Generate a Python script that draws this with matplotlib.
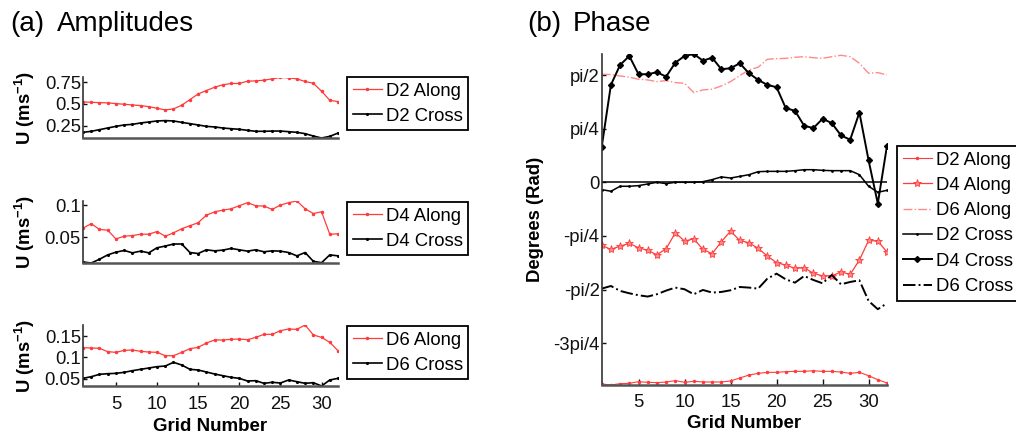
import numpy as np
import matplotlib
matplotlib.use("Agg")
import matplotlib.pyplot as plt

plt.rcParams['font.family'] = ['Liberation Sans', 'DejaVu Sans']
plt.rcParams['mathtext.fontset'] = 'custom'
plt.rcParams['mathtext.rm'] = 'Liberation Sans'
plt.rcParams['mathtext.bf'] = 'Liberation Sans:bold'

grid = np.arange(1, 33)

# (a) amplitudes, m/s
d2_along = [0.523, 0.519, 0.515, 0.512, 0.504, 0.496, 0.488, 0.481, 0.469, 0.450, 0.431, 0.442,
            0.485, 0.550, 0.615, 0.654, 0.692, 0.720, 0.735, 0.735, 0.762, 0.765, 0.773, 0.788,
            0.804, 0.800, 0.788, 0.758, 0.738, 0.646, 0.542, 0.527]
d2_cross = [0.173, 0.185, 0.204, 0.223, 0.242, 0.258, 0.265, 0.281, 0.292, 0.304, 0.308, 0.304,
            0.288, 0.273, 0.258, 0.242, 0.235, 0.223, 0.215, 0.208, 0.196, 0.185, 0.185, 0.188,
            0.188, 0.181, 0.173, 0.158, 0.131, 0.108, 0.127, 0.165]
d4_along = [0.0642, 0.0711, 0.0621, 0.0610, 0.0474, 0.0516, 0.0526, 0.0547, 0.0547, 0.0589, 0.0516,
            0.0568, 0.0632, 0.0679, 0.0726, 0.0842, 0.0895, 0.0921, 0.0942, 0.0989, 0.1037, 0.0989,
            0.0984, 0.0932, 0.1000, 0.1037, 0.1063, 0.0942, 0.0868, 0.0895, 0.0547, 0.0553]
d4_cross = [0.0116, 0.0100, 0.0158, 0.0226, 0.0268, 0.0295, 0.0258, 0.0284, 0.0258, 0.0337, 0.0363,
            0.0395, 0.0395, 0.0263, 0.0247, 0.0305, 0.0289, 0.0300, 0.0326, 0.0305, 0.0284, 0.0305,
            0.0274, 0.0289, 0.0284, 0.0263, 0.0211, 0.0263, 0.0126, 0.0105, 0.0226, 0.0211]
d6_along = [0.1228, 0.1220, 0.1213, 0.1134, 0.1118, 0.1165, 0.1173, 0.1142, 0.1126, 0.1118, 0.1039,
            0.1039, 0.1118, 0.1205, 0.1236, 0.1339, 0.1410, 0.1410, 0.1425, 0.1433, 0.1417, 0.1472,
            0.1543, 0.1543, 0.1630, 0.1669, 0.1661, 0.1764, 0.1528, 0.1472, 0.1354, 0.1157]
d6_cross = [0.0504, 0.0543, 0.0598, 0.0614, 0.0622, 0.0646, 0.0685, 0.0717, 0.0748, 0.0780, 0.0795,
            0.0882, 0.0819, 0.0717, 0.0701, 0.0654, 0.0606, 0.0567, 0.0528, 0.0504, 0.0441, 0.0449,
            0.0386, 0.0410, 0.0394, 0.0465, 0.0425, 0.0386, 0.0402, 0.0323, 0.0465, 0.0504]

# (b) phase, in units of pi/4
ph_d2_along = [-3.760, -3.779, -3.754, -3.748, -3.717, -3.729, -3.735, -3.723, -3.698, -3.729, -3.710,
               -3.723, -3.723, -3.723, -3.704, -3.649, -3.593, -3.562, -3.543, -3.543, -3.531, -3.525,
               -3.525, -3.513, -3.525, -3.525, -3.537, -3.562, -3.543, -3.606, -3.680, -3.742]
ph_d4_along = [-1.177, -1.251, -1.190, -1.139, -1.220, -1.270, -1.350, -1.238, -0.941, -1.096, -1.053,
               -1.251, -1.331, -1.108, -0.911, -1.084, -1.127, -1.232, -1.375, -1.499, -1.542, -1.604,
               -1.592, -1.697, -1.746, -1.746, -1.672, -1.716, -1.450, -1.084, -1.096, -1.301]
ph_d6_along = [2.015, 2.009, 1.983, 1.959, 1.922, 1.909, 1.877, 1.896, 1.859, 1.847, 1.673, 1.723,
               1.735, 1.797, 1.877, 1.989, 2.095, 2.145, 2.294, 2.305, 2.311, 2.331, 2.342, 2.323,
               2.311, 2.342, 2.368, 2.342, 2.219, 2.033, 2.045, 2.002]
ph_d2_cross = [-0.136, -0.167, -0.074, -0.074, -0.062, -0.031, 0.000, -0.025, 0.000, 0.000, 0.000,
               0.012, 0.050, 0.100, 0.080, 0.110, 0.142, 0.198, 0.204, 0.204, 0.204, 0.217, 0.235,
               0.235, 0.223, 0.217, 0.217, 0.217, 0.142, -0.074, -0.186, -0.149]
ph_d4_cross = [0.658, 1.816, 2.188, 2.355, 2.015, 2.015, 2.052, 1.970, 2.230, 2.355, 2.392, 2.268,
               2.323, 2.108, 2.126, 2.219, 2.033, 1.909, 1.816, 1.773, 1.383, 1.333, 1.054, 1.011,
               1.184, 1.104, 0.874, 0.794, 1.301, 0.409, -0.396, 0.682]
ph_d6_cross = [-1.982, -1.933, -2.025, -2.069, -2.106, -2.130, -2.087, -2.019, -1.963, -1.994, -2.087,
               -2.007, -2.056, -2.044, -2.013, -1.952, -1.963, -1.982, -1.796, -1.703, -1.809, -1.871,
               -1.747, -1.821, -1.883, -1.728, -1.902, -1.858, -1.827, -2.212, -2.366, -2.255]

phase_ticks = [2, 1, 0, -1, -2, -3]
phase_labels = ['pi/2', 'pi/4', '0', '-pi/4', '-pi/2', '-3pi/4']

W, H = 1016, 437
RED = '#ff3b3b'
PINK = '#ff8a8a'


def box(l, t, r, b):
    return [l / W, 1 - b / H, (r - l) / W, (b - t) / H]


def style(ax):
    for s in ['top', 'right']:
        ax.spines[s].set_visible(False)
    ax.spines['left'].set_color('#333333')
    ax.spines['left'].set_linewidth(1.2)
    ax.spines['bottom'].set_color('#555555')
    ax.spines['bottom'].set_linewidth(1.8)
    ax.tick_params(direction='in', length=3, width=1, labelsize=13.3, pad=1.5, colors='#111111')


def legend(ax, x, y, **kw):
    leg = ax.legend(loc='upper left', bbox_to_anchor=(x / W, 1 - y / H), bbox_transform=fig.transFigure,
                    borderaxespad=0, fontsize=13.3, fancybox=False, edgecolor='black', framealpha=1,
                    handlelength=1.6, handletextpad=0.2, borderpad=0.3, labelspacing=0.45, **kw)
    leg.get_frame().set_linewidth(1.3)
    return leg


fig = plt.figure(figsize=(W / 100, H / 100), dpi=100)

amp_sets = [
    (d2_along, d2_cross, 'D2', (83, 77.5, 338, 138), [0.25, 0.5, 0.75], ['0.25', '0.5', '0.75'], 77),
    (d4_along, d4_cross, 'D4', (83, 201, 338, 263), [0.05, 0.1], ['0.05', '0.1'], 202),
    (d6_along, d6_cross, 'D6', (83, 325, 338, 386), [0.05, 0.1, 0.15], ['0.05', '0.1', '0.15'], 326),
]
for i, (along, cross, name, pos, yt, yl, ly) in enumerate(amp_sets):
    ax = fig.add_axes(box(*pos))
    ax.plot(grid, along, '-', color=RED, lw=0.9, marker='.', ms=3, label=name + ' Along')
    ax.plot(grid, cross, '-', color='black', lw=1.2, marker='.', ms=2.5, label=name + ' Cross')
    ax.set_xlim(1, 32)
    ax.margins(y=0)
    ax.set_yticks(yt)
    ax.set_yticklabels(yl)
    style(ax)
    if i < 2:
        ax.set_xticks([])
    else:
        ax.set_xticks([5, 10, 15, 20, 25, 30])
        ax.tick_params(axis='x', pad=7.5)
        ax.set_xlabel('Grid Number', fontsize=13.5, fontweight='bold', labelpad=3)
    fig.text(25 / W, 1 - (pos[1] + pos[3]) / 2 / H, r'U (ms$^{\mathbf{-1}}$)', rotation=90,
             ha='center', va='center', fontsize=13.3, fontweight='bold')
    legend(ax, 347, ly)

ax = fig.add_axes(box(601.7, 54, 887, 385))
q = np.pi / 4
ax.plot(grid, np.array(ph_d2_along) * q, '-', color=RED, lw=0.8, marker='.', ms=3, label='D2 Along')
ax.plot(grid, np.array(ph_d4_along) * q, '-', color=RED, lw=0.9, marker='*', ms=6, mew=0.6,
        mfc=PINK, mec=RED, label='D4 Along')
ax.plot(grid, np.array(ph_d6_along) * q, '-.', color=PINK, lw=1.0, label='D6 Along')
ax.plot(grid, np.array(ph_d2_cross) * q, '-', color='black', lw=1.1, marker='.', ms=2, label='D2 Cross')
ax.plot(grid, np.array(ph_d4_cross) * q, '-', color='black', lw=1.4, marker='D', ms=3, label='D4 Cross')
ax.plot(grid, np.array(ph_d6_cross) * q, '-.', color='black', lw=1.4, label='D6 Cross')
ax.set_xlim(1, 32)
ax.margins(y=0)
ax.axhline(0, color='black', lw=1.1)
ax.set_yticks(np.array(phase_ticks) * q)
ax.set_yticklabels(phase_labels)
ax.set_xticks([5, 10, 15, 20, 25, 30])
style(ax)
ax.tick_params(axis='x', length=4, pad=6.7)
ax.set_xlabel('Grid Number', fontsize=13.5, fontweight='bold', labelpad=3)
fig.text(536 / W, 1 - 219.5 / H, 'Degrees (Rad)', rotation=90, ha='center', va='center',
         fontsize=13.3, fontweight='bold')
legend(ax, 897, 146)

fig.text(10 / W, 1 - 31 / H, '(a)', fontsize=20, va='baseline')
fig.text(57 / W, 1 - 31 / H, 'Amplitudes', fontsize=20, va='baseline')
fig.text(527 / W, 1 - 31 / H, '(b)', fontsize=20, va='baseline')
fig.text(573 / W, 1 - 31 / H, 'Phase', fontsize=20, va='baseline')

fig.savefig('out.png', dpi=100)
